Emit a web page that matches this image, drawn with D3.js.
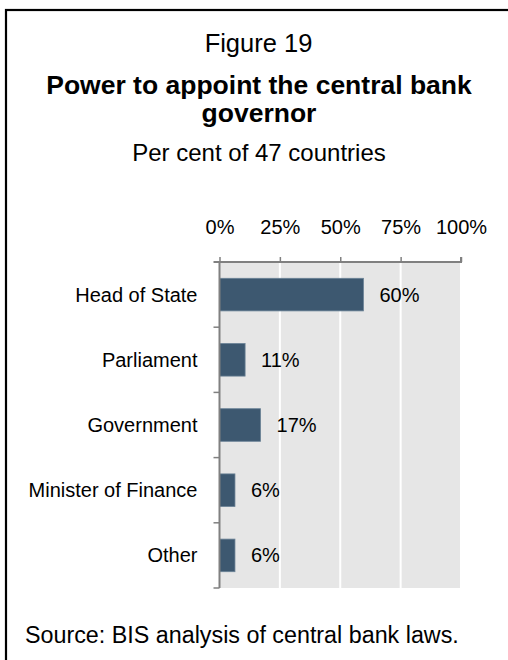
<!DOCTYPE html>
<html>
<head>
<meta charset="utf-8">
<script src="https://cdn.jsdelivr.net/npm/d3@7"></script>
<style>
  html, body { margin: 0; background: #fff; overflow: hidden; }
  svg { display: block; }
  svg text { font-family: "Liberation Sans", Arial, sans-serif; fill: #000; }
</style>
</head>
<body>
<div id="chart"></div>
<script>
// Chart data
var categories = ["Head of State", "Parliament", "Government", "Minister of Finance", "Other"];
var shares = [59.6, 10.6, 17.0, 6.4, 6.4];
var tickValues = [0, 25, 50, 75, 100];

var width = 508;
var height = 660;
var margin = { top: 262, left: 219.5, right: 47 };
var plotH = 326;

var svg = d3.select("#chart")
    .append("svg")
    .attr("width", width)
    .attr("height", height);

// Frame round the figure (runs off the right and bottom edges)
svg.append("rect")
    .attr("x", 6)
    .attr("y", 10)
    .attr("width", 560)
    .attr("height", 720)
    .attr("fill", "none")
    .attr("stroke", "#000")
    .attr("stroke-width", 2.2);

// Titles
svg.append("text")
    .attr("x", 258.5).attr("y", 52)
    .attr("text-anchor", "middle")
    .attr("font-size", "25.5px")
    .text("Figure 19");

svg.append("text")
    .attr("x", 259).attr("y", 94)
    .attr("text-anchor", "middle")
    .attr("font-size", "26.5px")
    .attr("font-weight", "bold")
    .text("Power to appoint the central bank");

svg.append("text")
    .attr("x", 259).attr("y", 122)
    .attr("text-anchor", "middle")
    .attr("font-size", "26.5px")
    .attr("font-weight", "bold")
    .text("governor");

svg.append("text")
    .attr("x", 259).attr("y", 161)
    .attr("text-anchor", "middle")
    .attr("font-size", "24px")
    .text("Per cent of 47 countries");

svg.append("text")
    .attr("x", 25).attr("y", 643)
    .attr("font-size", "23.3px")
    .text("Source: BIS analysis of central bank laws.");

var plotW = width - margin.left - margin.right;

var x = d3.scaleLinear().domain([0, 100]).range([0, plotW]);
var y = d3.scaleBand().domain(categories).range([0, plotH]).paddingInner(0.5).paddingOuter(0.25);

var g = svg.append("g")
    .attr("transform", "translate(" + margin.left + "," + margin.top + ")");

// Plot background and grid
g.append("rect")
    .attr("width", plotW)
    .attr("height", plotH)
    .attr("fill", "#e6e6e6");

g.selectAll(".grid")
    .data(tickValues.slice(1))
    .enter()
    .append("line")
    .attr("x1", function(d) { return x(d); })
    .attr("x2", function(d) { return x(d); })
    .attr("y1", 0)
    .attr("y2", plotH)
    .attr("stroke", "#fff")
    .attr("stroke-width", 2);

// Bars
g.selectAll(".bar")
    .data(shares)
    .enter()
    .append("rect")
    .attr("class", "bar")
    .attr("x", 0)
    .attr("y", function(d, i) { return y(categories[i]); })
    .attr("width", function(d) { return x(d); })
    .attr("height", y.bandwidth())
    .attr("fill", "#3d5870")
    .attr("stroke", "#6a8296")
    .attr("stroke-width", 0.8);

// Value labels
g.selectAll(".val")
    .data(shares)
    .enter()
    .append("text")
    .attr("x", function(d) { return x(d) + 16; })
    .attr("y", function(d, i) { return y(categories[i]) + y.bandwidth() / 2 + 7; })
    .attr("font-size", "20px")
    .text(function(d) { return Math.round(d) + "%"; });

// Top axis
var xAxis = d3.axisTop(x)
    .tickValues(tickValues)
    .tickSize(5)
    .tickPadding(23)
    .tickFormat(function(d) { return d + "%"; });

var ax = g.append("g").call(xAxis);
ax.select(".domain").attr("stroke", "#808080").attr("stroke-width", 2).attr("d", "M-6,0H" + plotW + "V-5");
ax.selectAll(".tick line").attr("stroke", "#808080").attr("stroke-width", 1.5);
ax.selectAll(".tick text").attr("font-size", "20px").attr("fill", "#000")
    .style("font-family", "'Liberation Sans', Arial, sans-serif");

// Left axis: ticks sit between categories
var step = y.step();
var catTicks = d3.range(1, categories.length + 1).map(function(i) { return i * step; });

g.append("line")
    .attr("x1", 0).attr("x2", 0)
    .attr("y1", 0).attr("y2", plotH)
    .attr("stroke", "#808080")
    .attr("stroke-width", 2);

g.selectAll(".ytick")
    .data(catTicks)
    .enter()
    .append("line")
    .attr("x1", -6).attr("x2", 0)
    .attr("y1", function(d) { return d; })
    .attr("y2", function(d) { return d; })
    .attr("stroke", "#808080")
    .attr("stroke-width", 1.5);

g.selectAll(".cat")
    .data(categories)
    .enter()
    .append("text")
    .attr("x", -22)
    .attr("y", function(d) { return y(d) + y.bandwidth() / 2 + 7; })
    .attr("text-anchor", "end")
    .attr("font-size", "20px")
    .text(function(d) { return d; });
</script>
</body>
</html>
